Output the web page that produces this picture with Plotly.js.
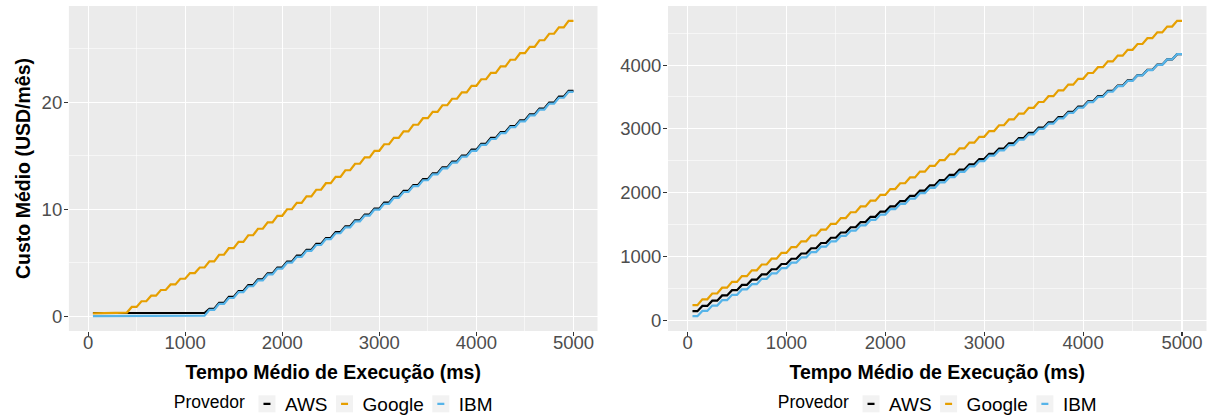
<!DOCTYPE html>
<html><head><meta charset="utf-8">
<script src="https://cdn.plot.ly/plotly-3.0.1.min.js"></script>
<style>html,body{margin:0;padding:0;background:#fff}#chart{width:1213px;height:416px}</style>
</head><body><div id="chart"></div>
<script>
// Providers and colours
const providers = ["AWS", "Google", "IBM"];
const providerColors = ["#000000", "#E69F00", "#56B4E9"];

// Billing buckets (ms) and the mean-execution-time samples (ms)
const billedMs = [100,200,300,400,500,600,700,800,900,1000,1100,1200,1300,1400,1500,1600,1700,1800,1900,2000,2100,2200,2300,2400,2500,2600,2700,2800,2900,3000,3100,3200,3300,3400,3500,3600,3700,3800,3900,4000,4100,4200,4300,4400,4500,4600,4700,4800,4900,5000];
const sampleMs = [50,100,150,200,250,300,350,400,450,500,550,600,650,700,750,800,850,900,950,1000,1050,1100,1150,1200,1250,1300,1350,1400,1450,1500,1550,1600,1650,1700,1750,1800,1850,1900,1950,2000,2050,2100,2150,2200,2250,2300,2350,2400,2450,2500,2550,2600,2650,2700,2750,2800,2850,2900,2950,3000,3050,3100,3150,3200,3250,3300,3350,3400,3450,3500,3550,3600,3650,3700,3750,3800,3850,3900,3950,4000,4050,4100,4150,4200,4250,4300,4350,4400,4450,4500,4550,4600,4650,4700,4750,4800,4850,4900,4950,5000];

// Left panel: monthly cost (USD) per billed bucket
const costLowAWS = [0.3,0.3,0.3,0.3,0.3,0.3,0.3,0.3,0.3,0.3,0.3,0.3,0.70,1.25,1.80,2.35,2.90,3.45,4.00,4.55,5.10,5.65,6.20,6.75,7.30,7.85,8.40,8.95,9.50,10.05,10.60,11.15,11.70,12.25,12.80,13.35,13.90,14.45,15.00,15.55,16.10,16.65,17.20,17.75,18.30,18.85,19.40,19.95,20.50,21.05];
const costLowGoogle = [0.27,0.27,0.27,0.34,0.87,1.40,1.92,2.45,2.97,3.50,4.03,4.55,5.13,5.74,6.35,6.95,7.56,8.17,8.77,9.38,9.99,10.59,11.20,11.81,12.42,13.02,13.63,14.24,14.84,15.45,16.06,16.66,17.27,17.88,18.49,19.09,19.70,20.31,20.91,21.52,22.13,22.73,23.34,23.95,24.56,25.16,25.77,26.38,26.98,27.59];
const costLowIBM = [0,0,0,0,0,0,0,0,0,0,0,0.05,0.60,1.15,1.70,2.25,2.80,3.35,3.90,4.45,5.00,5.55,6.10,6.65,7.20,7.75,8.30,8.85,9.40,9.95,10.50,11.05,11.60,12.15,12.70,13.25,13.80,14.35,14.90,15.45,16.00,16.55,17.10,17.65,18.20,18.75,19.30,19.85,20.40,20.95];

// Right panel: monthly cost (USD) per billed bucket
const costHighAWS = [142.0,224.2,306.4,388.6,470.8,553.0,635.2,717.4,799.6,881.8,964.0,1046.2,1128.4,1210.6,1292.8,1375.0,1457.2,1539.4,1621.6,1703.8,1786.0,1868.2,1950.4,2032.6,2114.8,2197.0,2279.2,2361.4,2443.6,2525.8,2608.0,2690.2,2772.4,2854.6,2936.8,3019.0,3101.2,3183.4,3265.6,3347.8,3430.0,3512.2,3594.4,3676.6,3758.8,3841.0,3923.2,4005.4,4087.6,4169.8];
const costHighGoogle = [237.0,327.9,418.9,509.8,600.8,691.8,782.7,873.7,964.6,1055.6,1146.6,1237.5,1328.5,1419.4,1510.4,1601.4,1692.3,1783.3,1874.2,1965.2,2056.2,2147.1,2238.1,2329.0,2420.0,2511.0,2601.9,2692.9,2783.8,2874.8,2965.8,3056.7,3147.7,3238.6,3329.6,3420.6,3511.5,3602.5,3693.4,3784.4,3875.4,3966.3,4057.3,4148.2,4239.2,4330.2,4421.1,4512.1,4603.0,4694.0];
const costHighIBM = [62.9,146.7,230.6,314.4,398.3,482.2,566.0,649.9,733.7,817.6,901.5,985.3,1069.2,1153.0,1236.9,1320.8,1404.6,1488.5,1572.3,1656.2,1740.1,1823.9,1907.8,1991.6,2075.5,2159.4,2243.2,2327.1,2410.9,2494.8,2578.7,2662.5,2746.4,2830.2,2914.1,2998.0,3081.8,3165.7,3249.5,3333.4,3417.3,3501.1,3585.0,3668.8,3752.7,3836.6,3920.4,4004.3,4088.1,4172.0];

const xTickVals = [0,1000,2000,3000,4000,5000];
const yLowTicks = [0,10,20];
const yHighTicks = [0,1000,2000,3000,4000];

const FONT = '"Liberation Sans", Arial, Helvetica, sans-serif';
const TICK_FS = 18.5, TITLE_FS = 19.5, LEG_FS = 19, LEGT_FS = 17.5;

// Map each sample to the cost of the billed bucket containing it
function sampleCosts(levels) {
  return sampleMs.map(t => {
    let i = billedMs.findIndex(b => t <= b);
    return levels[i];
  });
}

const lowSeries = [costLowAWS, costLowGoogle, costLowIBM];
const highSeries = [costHighAWS, costHighGoogle, costHighIBM];
const traces = [];
lowSeries.forEach((lv, i) => traces.push({
  type: 'scatter', mode: 'lines', x: sampleMs, y: sampleCosts(lv),
  name: providers[i], line: {color: providerColors[i], width: 2.2},
  xaxis: 'x', yaxis: 'y', legend: 'legend'
}));
highSeries.forEach((lv, i) => traces.push({
  type: 'scatter', mode: 'lines', x: sampleMs, y: sampleCosts(lv),
  name: providers[i], line: {color: providerColors[i], width: 2.2},
  xaxis: 'x2', yaxis: 'y2', legend: 'legend2'
}));

const W = 1213, H = 416;
const leftDom = [68.9 / W, 597.5 / W];
const rightDom = [668 / W, 1206.5 / W];
const yDom = [(H - 331) / H, (H - 6) / H];

function xAxis(dom, anchor) {
  return {
    domain: dom, anchor: anchor, range: [-197.5, 5247.5],
    tickvals: xTickVals, ticktext: xTickVals.map(String),
    ticks: 'outside', ticklen: 4, tickwidth: 1.1, tickcolor: '#333333',
    ticklabelstandoff: -9,
    tickfont: {family: FONT, size: TICK_FS, color: '#4D4D4D'},
    showgrid: true, gridcolor: '#FFFFFF', gridwidth: 1.1,
    minor: {tickvals: [500,1500,2500,3500,4500], showgrid: true, gridcolor: '#FFFFFF', gridwidth: 0.55, ticks: ''},
    zeroline: false, showline: false,
    title: {text: '<b>Tempo Médio de Execução (ms)</b>', font: {family: FONT, size: TITLE_FS, color: '#000'}, standoff: 13}
  };
}
function yAxis(dom, anchor, range, ticks, minorTicks, titleText) {
  return {
    domain: dom, anchor: anchor, range: range,
    tickvals: ticks, ticktext: ticks.map(String),
    ticks: 'outside', ticklen: 4, tickwidth: 1.1, tickcolor: '#333333',
    ticklabelstandoff: -2,
    tickfont: {family: FONT, size: TICK_FS, color: '#4D4D4D'},
    showgrid: true, gridcolor: '#FFFFFF', gridwidth: 1.1,
    minor: {tickvals: minorTicks, showgrid: true, gridcolor: '#FFFFFF', gridwidth: 0.55, ticks: ''},
    zeroline: false, showline: false,
    title: {text: titleText, font: {family: FONT, size: TITLE_FS, color: '#000'}, standoff: 5}
  };
}

function legendCfg(xc) {
  return {
    orientation: 'h', x: xc, xanchor: 'center', y: (H - 404) / H, yanchor: 'middle',
    title: {text: 'Provedor', side: 'left', font: {family: FONT, size: LEGT_FS, color: '#000'}},
    font: {family: FONT, size: LEG_FS, color: '#000'},
    itemwidth: 30, bgcolor: 'rgba(0,0,0,0)', traceorder: 'normal'
  };
}

const layout = {
  width: W, height: H,
  margin: {l: 0, r: 0, t: 0, b: 0, autoexpand: false},
  paper_bgcolor: '#FFFFFF', plot_bgcolor: '#EBEBEB',
  font: {family: FONT, size: TICK_FS, color: '#000'},
  showlegend: true,
  xaxis: xAxis(leftDom, 'y'),
  yaxis: yAxis(yDom, 'x', [-1.38, 28.97], yLowTicks, [5, 15, 25], '<b>Custo Médio (USD/mês)</b>'),
  xaxis2: xAxis(rightDom, 'y2'),
  yaxis2: yAxis(yDom, 'x2', [-168.7, 4925.6], yHighTicks, [500, 1500, 2500, 3500, 4500], ''),
  legend: legendCfg((leftDom[0] + leftDom[1]) / 2),
  legend2: legendCfg((rightDom[0] + rightDom[1]) / 2)
};

const NS = 'http://www.w3.org/2000/svg';
const panelCenters = [(leftDom[0] + leftDom[1]) / 2 * W, (rightDom[0] + rightDom[1]) / 2 * W];

// Compact ggplot-style legend keys: short line in a light grey key box
function compactLegend(gd, title) {
  const svg = gd.querySelector('svg.main-svg');
  const svgLeft = svg.getBoundingClientRect().left;
  let lg = title.parentNode;
  while (lg && !(lg.querySelectorAll && lg.querySelectorAll('g.traces').length)) lg = lg.parentNode;
  if (!lg) return;
  const items = Array.from(lg.querySelectorAll('g.traces'));
  const tb = title.getBoundingClientRect();
  const tcx = (tb.left + tb.right) / 2 - svgLeft;
  const centerPx = tcx < W / 2 ? panelCenters[0] : panelCenters[1];
  const titleW = title.getBBox().width;
  const texts = items.map(it => it.querySelector('text[class*="legendtext"]') || it.querySelector('text'));
  const widths = texts.map(t => t.getBBox().width);
  const total = titleW + 22 + items.length * 18 + widths.reduce((a, b) => a + b, 0) + (items.length - 1) * 17;
  const x0 = centerPx - total / 2;
  const dT = x0 - (tb.left - svgLeft);
  const prevT = title.getAttribute('transform') || '';
  title.setAttribute('transform', 'translate(' + dT + ',0) ' + prevT);
  let keyCenter = x0 + titleW + 22;
  items.forEach((it, i) => {
    const path = it.querySelector('g.legendlines path');
    if (path && !it.querySelector('rect.keybox')) {
      path.setAttribute('d', 'M16.5,0h7');
      const lines = path.parentNode;
      const rect = document.createElementNS(NS, 'rect');
      rect.setAttribute('class', 'keybox');
      rect.setAttribute('x', 11.5); rect.setAttribute('y', -8.5);
      rect.setAttribute('width', 17); rect.setAttribute('height', 17);
      rect.setAttribute('fill', '#F2F2F2');
      lines.parentNode.insertBefore(rect, lines);
    }
    texts[i].setAttribute('x', 38);
    const ctm = it.getScreenCTM();
    const svgCtm = svg.getScreenCTM();
    const curOrigin = ctm.e - svgCtm.e;
    const want = keyCenter - 20;
    const m = /translate\(\s*([-\d.e]+)[ ,]+([-\d.e]+)\s*\)/.exec(it.getAttribute('transform') || 'translate(0,0)');
    const tx = m ? parseFloat(m[1]) : 0, ty = m ? parseFloat(m[2]) : 0;
    it.setAttribute('transform', 'translate(' + (tx + want - curOrigin) + ',' + ty + ')');
    keyCenter = keyCenter + 18 + widths[i] + 17;
  });
}

function patchLegends(gd) {
  const titles = Array.from(gd.querySelectorAll('text')).filter(t =>
    /titletext/.test(t.getAttribute('class') || '') && /legend/.test(t.getAttribute('class') || ''));
  titles.forEach(t => {
    try { compactLegend(gd, t); } catch (e) { console.error(e); }
  });
}

Plotly.newPlot('chart', traces, layout, {staticPlot: true, displayModeBar: false}).then(gd => {
  patchLegends(gd);
});
</script>
</body></html>
